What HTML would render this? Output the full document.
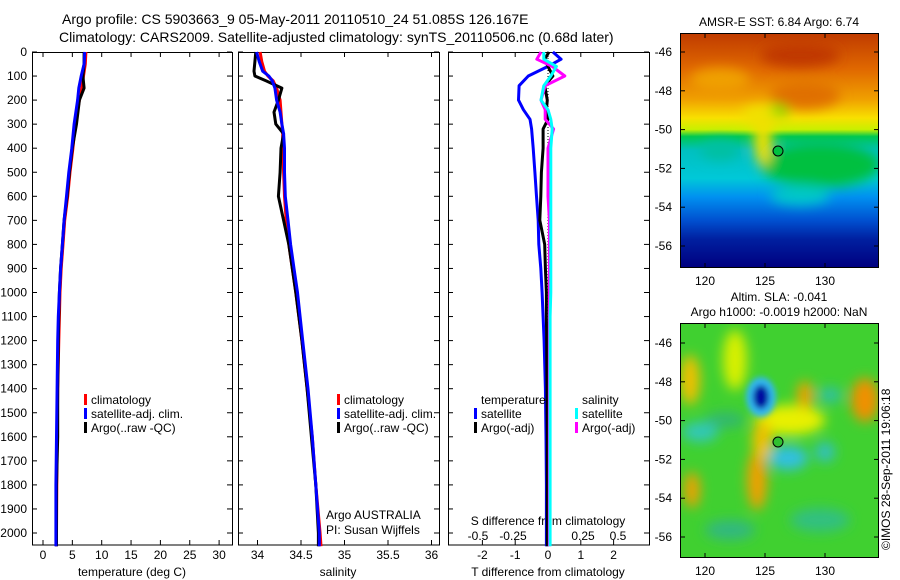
<!DOCTYPE html>
<html><head><meta charset="utf-8"><style>
html,body{margin:0;padding:0;background:#fff;}
svg{display:block;font-family:"Liberation Sans",sans-serif;}
</style></head><body>
<svg id="chart" width="900" height="580" viewBox="0 0 900 580" xmlns="http://www.w3.org/2000/svg">
<defs>
<filter id="blur6" x="-50%" y="-50%" width="200%" height="200%"><feGaussianBlur stdDeviation="6"/></filter>
<filter id="blur3" x="-50%" y="-50%" width="200%" height="200%"><feGaussianBlur stdDeviation="3"/></filter>
<clipPath id="clip1"><rect x="681" y="34" width="197" height="233"/></clipPath>
<clipPath id="clip2"><rect x="681" y="324" width="197" height="233"/></clipPath>
<linearGradient id="sstGrad" x1="0" y1="0" x2="0" y2="1">
<stop offset="0" stop-color="#c03c00"/><stop offset="0.15" stop-color="#e06800"/>
<stop offset="0.28" stop-color="#f0a000"/><stop offset="0.36" stop-color="#f8e000"/>
<stop offset="0.41" stop-color="#c8f000"/><stop offset="0.44" stop-color="#00c850"/>
<stop offset="0.5" stop-color="#00c0c0"/><stop offset="0.62" stop-color="#00c8d8"/>
<stop offset="0.7" stop-color="#0090f0"/><stop offset="0.8" stop-color="#0050d0"/>
<stop offset="0.88" stop-color="#0020a0"/><stop offset="1" stop-color="#000080"/>
</linearGradient>
</defs>
<g id="titles" font-size="14" fill="#000">
<text x="62" y="24">Argo profile: CS 5903663_9 05-May-2011 20110510_24 51.085S 126.167E</text>
<text x="59" y="42">Climatology: CARS2009. Satellite-adjusted climatology: synTS_20110506.nc (0.68d later)</text>
</g>
<g id="panels"></g>
<g id="maps">
<g clip-path="url(#clip1)">
<rect x="681" y="34" width="197" height="233" fill="url(#sstGrad)"/>
<g filter="url(#blur6)">
<ellipse cx="820" cy="165" rx="60" ry="22" fill="#00c040"/>
<ellipse cx="720" cy="150" rx="20" ry="10" fill="#00c0a0"/>
<ellipse cx="763" cy="140" rx="9" ry="26" fill="#f0e000"/>
<ellipse cx="762" cy="115" rx="20" ry="10" fill="#f0e000"/>
<ellipse cx="780" cy="110" rx="9" ry="7" fill="#80e000"/>
<ellipse cx="805" cy="95" rx="35" ry="14" fill="#e07000"/>
<ellipse cx="800" cy="195" rx="30" ry="10" fill="#00c8c8"/>
<ellipse cx="720" cy="80" rx="30" ry="12" fill="#f0a000"/>
<ellipse cx="800" cy="55" rx="40" ry="12" fill="#c03800"/>
</g>
<circle cx="778" cy="151" r="5" fill="#00c040" stroke="#000" stroke-width="1"/>
</g>
<g clip-path="url(#clip2)">
<rect x="681" y="324" width="197" height="233" fill="#40d030"/>
<g filter="url(#blur6)">
<ellipse cx="690" cy="380" rx="10" ry="25" fill="#f0c000"/>
<ellipse cx="725" cy="420" rx="20" ry="8" fill="#30b870"/>
<ellipse cx="735" cy="360" rx="12" ry="30" fill="#d8f000"/>
<ellipse cx="790" cy="420" rx="35" ry="15" fill="#e8f000"/>
<ellipse cx="757" cy="480" rx="10" ry="30" fill="#f0a000"/>
<ellipse cx="762" cy="440" rx="10" ry="20" fill="#f0c000"/>
<ellipse cx="805" cy="395" rx="8" ry="14" fill="#f0a000"/>
<ellipse cx="865" cy="400" rx="14" ry="22" fill="#f09000"/>
<ellipse cx="830" cy="395" rx="12" ry="8" fill="#30c0a0"/>
<ellipse cx="700" cy="432" rx="18" ry="10" fill="#30c8b8"/>
<ellipse cx="788" cy="458" rx="20" ry="12" fill="#30c0e0"/>
<ellipse cx="825" cy="452" rx="10" ry="10" fill="#30c0c0"/>
<ellipse cx="692" cy="490" rx="8" ry="18" fill="#f0a000"/>
<ellipse cx="820" cy="520" rx="30" ry="12" fill="#30c080"/>
<ellipse cx="730" cy="530" rx="25" ry="10" fill="#30b880"/>
</g>
<g filter="url(#blur3)">
<ellipse cx="761" cy="397" rx="15" ry="20" fill="#30b8f0"/>
<ellipse cx="761" cy="397" rx="8" ry="12" fill="#0010a0"/>
</g>
<circle cx="778" cy="442" r="5" fill="#30c030" stroke="#000" stroke-width="1"/>
</g>
<rect x="680.5" y="33.5" width="198" height="234" fill="none" stroke="#000"/>
<rect x="680.5" y="323.5" width="198" height="234" fill="none" stroke="#000"/>
<text x="779" y="26" font-size="12" text-anchor="middle">AMSR-E SST: 6.84 Argo: 6.74</text>
<text x="779" y="301" font-size="12" text-anchor="middle">Altim. SLA: -0.041</text>
<text x="779" y="316" font-size="12" text-anchor="middle">Argo h1000: -0.0019 h2000: NaN</text>
<text transform="translate(890,550) rotate(-90)" font-size="12">©IMOS 28-Sep-2011 19:06:18</text>
<g id="mapticks" font-size="12"></g>
</g>
</svg>
<script>
// ---- data ----
var depthTicks = [0,100,200,300,400,500,600,700,800,900,1000,1100,1200,1300,1400,1500,1600,1700,1800,1900,2000];
var tempTicks = [0,5,10,15,20,25,30];
var salTicks = [34,34.5,35,35.5,36];
var tdiffTicks = [-2,-1,0,1,2];
var sdiffTicks = [-0.5,-0.25,0,0.25,0.5];
var sdiffTickLabels = ['-0.5','-0.25','0','0.25','0.5'];

var tDepth = [0,50,100,150,200,300,400,500,600,700,800,900,1000,1100,1200,1400,1600,1800,2000,2055];
var tClim  = [7.3,7.2,6.9,6.6,6.2,5.5,5.1,4.6,4.2,3.7,3.4,3.1,2.9,2.8,2.7,2.5,2.4,2.35,2.3,2.3];
var tSat   = [7.1,7.0,6.5,6.1,5.9,5.3,4.9,4.4,4.0,3.6,3.3,3.0,2.8,2.6,2.5,2.4,2.3,2.2,2.2,2.2];
var tArgo  = [7.0,7.0,6.8,7.0,6.2,5.7,5.0,4.5,4.1,3.6,3.3,3.0,2.8,2.7,2.6,2.5,2.5,2.3,2.3,2.3];

var sDepth = [0,40,80,100,120,150,200,250,300,340,400,500,600,700,800,900,1000,1200,1400,1600,1800,2000,2055];
var sClim  = [34.03,34.05,34.08,34.12,34.18,34.22,34.26,34.27,34.28,34.29,34.29,34.30,34.31,34.33,34.36,34.40,34.44,34.51,34.57,34.63,34.67,34.72,34.73];
var sSat   = [33.99,34.02,34.06,34.13,34.17,34.20,34.22,34.26,34.28,34.30,34.31,34.31,34.32,34.35,34.38,34.42,34.46,34.52,34.58,34.63,34.67,34.71,34.71];
var sArgo  = [33.98,33.97,33.96,33.97,34.10,34.28,34.24,34.19,34.21,34.30,34.27,34.26,34.24,34.30,34.36,34.40,34.44,34.51,34.57,34.62,34.67,34.70,34.70];

var dDepth = [0,30,60,100,140,200,240,280,320,400,500,600,700,800,900,1000,1100,1200,1400,1600,1800,2000,2055];
var dTSat  = [0.15,0.4,0.0,-0.6,-0.88,-0.9,-0.75,-0.55,-0.5,-0.45,-0.4,-0.35,-0.3,-0.28,-0.22,-0.18,-0.15,-0.12,-0.08,-0.06,-0.05,-0.05,-0.05];
var dTArgo = [0.03,-0.1,0.0,0.15,-0.1,-0.02,-0.05,0.0,-0.15,-0.15,-0.2,-0.22,-0.25,-0.1,-0.08,-0.05,-0.05,-0.04,-0.03,-0.02,-0.02,-0.02,-0.02];
var dSSat  = [-0.03,-0.03,0.06,0.02,-0.03,-0.05,0.0,0.02,0.03,0.02,0.02,0.02,0.02,0.02,0.02,0.02,0.015,0.015,0.015,0.015,0.015,0.015,0.015];
var dSArgo = [-0.05,-0.08,0.03,0.12,-0.02,-0.05,-0.02,-0.02,0.04,0.0,0.0,0.0,0.01,0.01,0.01,0.01,0.01,0.01,0.01,0.01,0.01,0.01,0.01];

var mapLonTicks = [120,125,130];
var mapLatTicks = [-46,-48,-50,-52,-54,-56];

// ---- drawing ----
var NS = 'http://www.w3.org/2000/svg';
var svg = document.getElementById('chart');
var root = document.getElementById('panels');
function mk(tag, attrs, parent){var e=document.createElementNS(NS,tag);for(var k in attrs)e.setAttribute(k,attrs[k]);(parent||root).appendChild(e);return e;}
var yTop=52, yBot=545;
function yD(d){return yTop + d*0.2405;}

var panels = [
 {x0:32,x1:232,name:'temperature-panel'},
 {x0:238,x1:439,name:'salinity-panel'},
 {x0:448,x1:649,name:'difference-panel'}
];
function xT(v){return 43 + v*5.87;}
function xS(v){return 257.5 + (v-34)*87;}
function xTD(v){return 548 + v*32.8;}
function xSD(v){return 548 + v*140;}

panels.forEach(function(p){
  var r = mk('rect',{x:p.x0+0.5,y:yTop+0.5,width:p.x1-p.x0,height:yBot-yTop-0.5,fill:'none',stroke:'#000','stroke-width':1});
  
  
});
depthTicks.forEach(function(d){
  var y=yD(d);
  var t=mk('text',{x:27,y:y+4,'font-size':12,'text-anchor':'end'});
  t.textContent=d;
  
  
  panels.forEach(function(p){
    mk('line',{x1:p.x0,x2:p.x0+5,y1:y,y2:y,stroke:'#000'});
    mk('line',{x1:p.x1-5,x2:p.x1,y1:y,y2:y,stroke:'#000'});
  });
});
function xAxis(ticks, labels, fx, p, ylab, topTick, bottomTick){
  ticks.forEach(function(v,i){
    var x=fx(v);
    if(bottomTick) mk('line',{x1:x,x2:x,y1:yBot-5,y2:yBot,stroke:'#000'});
    if(topTick) mk('line',{x1:x,x2:x,y1:yTop,y2:yTop+5,stroke:'#000'});
    var t=mk('text',{x:x,y:ylab,'font-size':12,'text-anchor':'middle'});
    t.textContent=labels?labels[i]:v;
    
    
  });
}
xAxis(tempTicks,null,xT,panels[0],559,true,true);
xAxis(salTicks,null,xS,panels[1],559,true,true);
xAxis(tdiffTicks,null,xTD,panels[2],559,true,true);
xAxis(sdiffTicks,sdiffTickLabels,xSD,panels[2],540,false,false);
function label(x,y,txt,name,anchor){var t=mk('text',{x:x,y:y,'font-size':12,'text-anchor':anchor||'middle'});t.textContent=txt;return t;}
label(132,576,'temperature (deg C)','temp-axis-title');
label(338,576,'salinity','salinity-axis-title');
label(548,576,'T difference from climatology','tdiff-axis-title');
label(548,525,'S difference from climatology','sdiff-axis-title');
label(326,519,'Argo AUSTRALIA','institution-label','start');
label(326,534,'PI: Susan Wijffels','pi-label','start');

mk('line',{x1:548,x2:548,y1:yTop,y2:yBot,stroke:'#000','stroke-dasharray':'1,2'});

function series(depth, vals, fx, color, name, w){
  var pts = depth.map(function(d,i){return fx(vals[i]).toFixed(1)+','+yD(d).toFixed(1);}).join(' ');
  var pl = mk('polyline',{points:pts,fill:'none',stroke:color,'stroke-width':w||3,'stroke-linejoin':'round'});
  
  
}
series(tDepth,tClim,xT,'#ff0000','temp-climatology-line');
series(tDepth,tArgo,xT,'#000000','temp-argo-line');
series(tDepth,tSat,xT,'#0000ff','temp-satellite-line');
series(sDepth,sClim,xS,'#ff0000','salinity-climatology-line');
series(sDepth,sArgo,xS,'#000000','salinity-argo-line');
series(sDepth,sSat,xS,'#0000ff','salinity-satellite-line');
series(dDepth,dTSat,xTD,'#0000ff','tdiff-satellite-line');
series(dDepth,dTArgo,xTD,'#000000','tdiff-argo-line');
series(dDepth,dSArgo,xSD,'#ff00ff','sdiff-argo-line');
series(dDepth,dSSat,xSD,'#00ffff','sdiff-satellite-line');

function legendItem(x,y,color,txt,name){
  var g=mk('g',{});
  
  
  mk('rect',{x:x,y:y-10,width:3,height:11,fill:color},g);
  var t=mk('text',{x:x+7,y:y,'font-size':12},g);t.textContent=txt;
}
legendItem(84,404,'#ff0000','climatology','legend-climatology');
legendItem(84,418,'#0000ff','satellite-adj. clim.','legend-satellite');
legendItem(84,432,'#000000','Argo(..raw -QC)','legend-argo');
legendItem(337,404,'#ff0000','climatology','legend-climatology-sal');
legendItem(337,418,'#0000ff','satellite-adj. clim.','legend-satellite-sal');
legendItem(337,432,'#000000','Argo(..raw -QC)','legend-argo-sal');
label(481,404,'temperature','legend-temperature-header','start');
label(582,404,'salinity','legend-salinity-header','start');
legendItem(474,418,'#0000ff','satellite','legend-tdiff-satellite');
legendItem(474,432,'#000000','Argo(-adj)','legend-tdiff-argo');
legendItem(575,418,'#00ffff','satellite','legend-sdiff-satellite');
legendItem(575,432,'#ff00ff','Argo(-adj)','legend-sdiff-argo');

var mt=document.getElementById('mapticks');
function mLon(l){return 705+(l-120)*12;}
[[34,267,52],[324,557,343]].forEach(function(m){
  mapLonTicks.forEach(function(l){
    var x=mLon(l);
    mk('line',{x1:x,x2:x,y1:m[1]-4,y2:m[1],stroke:'#000'},mt);
    mk('line',{x1:x,x2:x,y1:m[0],y2:m[0]+4,stroke:'#000'},mt);
    var t=mk('text',{x:x,y:m[1]+18,'text-anchor':'middle'},mt);t.textContent=l;
    
    
  });
  mapLatTicks.forEach(function(la){
    var y=m[2]+(-46-la)*19.4;
    mk('line',{x1:681,x2:685,y1:y,y2:y,stroke:'#000'},mt);
    mk('line',{x1:874,x2:878,y1:y,y2:y,stroke:'#000'},mt);
    var t=mk('text',{x:672,y:y+4,'text-anchor':'end'},mt);t.textContent=la;
    
    
  });
});
</script>
</body></html>
